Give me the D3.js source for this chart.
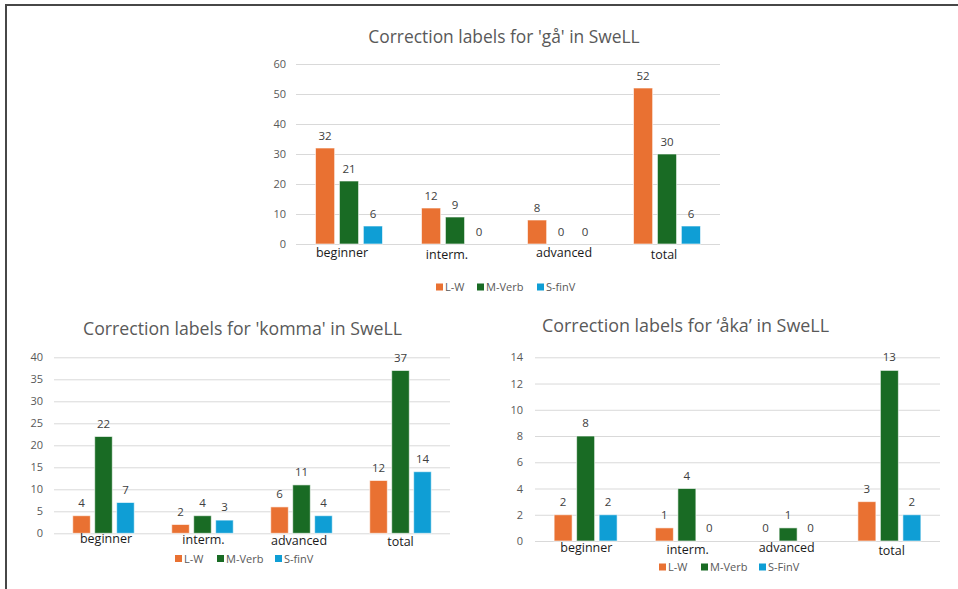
<!DOCTYPE html>
<html>
<head>
<meta charset="utf-8">
<script src="https://cdn.jsdelivr.net/npm/d3@7"></script>
<style>
  body { margin: 0; background: #fff; }
  svg { display: block; font-family: "Open Sans", "Noto Sans", sans-serif; }
</style>
</head>
<body>
<script>
// data
const categories = ["beginner", "interm.", "advanced", "total"];

const gaSeries = ["L-W", "M-Verb", "S-finV"];
const gaLW = [32, 12, 8, 52];
const gaMVerb = [21, 9, 0, 30];
const gaSfinV = [6, 0, 0, 6];
const gaTicks = [0, 10, 20, 30, 40, 50, 60];

const kommaSeries = ["L-W", "M-Verb", "S-finV"];
const kommaLW = [4, 2, 6, 12];
const kommaMVerb = [22, 4, 11, 37];
const kommaSfinV = [7, 3, 4, 14];
const kommaTicks = [0, 5, 10, 15, 20, 25, 30, 35, 40];

const akaSeries = ["L-W", "M-Verb", "S-FinV"];
const akaLW = [2, 1, 0, 3];
const akaMVerb = [8, 4, 1, 13];
const akaSfinV = [2, 0, 0, 2];
const akaTicks = [0, 2, 4, 6, 8, 10, 12, 14];

const colors = ["#E97132", "#196B24", "#0F9ED5"];

var w = 958;
var h = 589;

var svg = d3.select("body")
            .append("svg")
            .attr("width", w)
            .attr("height", h);

// frame lines on the left and top
svg.append("path")
   .attr("d", "M6,589 V5 H958")
   .attr("fill", "none")
   .attr("stroke", "#474747")
   .attr("stroke-width", 2);

function drawChart(cfg) {
    var g = svg.append("g");

    var x0 = d3.scaleBand()
               .domain(categories)
               .range([cfg.left, cfg.right]);
    var x1 = d3.scaleBand()
               .domain(cfg.series)
               .range([0, cfg.groupWidth])
               .paddingInner(cfg.barGap);
    var y = d3.scaleLinear()
              .domain([0, d3.max(cfg.ticks)])
              .range([cfg.bottom, cfg.top]);

    // title
    g.append("text")
     .attr("x", cfg.titleX)
     .attr("y", cfg.titleY)
     .attr("text-anchor", "middle")
     .attr("fill", "#595959")
     .style("font-size", cfg.titleSize + "px")
     .text(cfg.title);

    // gridlines + tick labels via axis
    var axis = g.append("g")
                .attr("transform", "translate(" + cfg.left + ",0)")
                .call(d3.axisLeft(y)
                        .tickValues(cfg.ticks)
                        .tickSize(-(cfg.right - cfg.left))
                        .tickPadding(cfg.tickPad));
    axis.select(".domain").remove();
    axis.selectAll(".tick line")
        .attr("stroke", "#d9d9d9")
        .attr("stroke-width", 1);
    axis.selectAll(".tick text")
        .attr("fill", "#595959")
        .style("font-size", "11px")
        .style("font-family", "\"Open Sans\", sans-serif");

    var rows = cfg.series.map(function(name, i) {
        return {name: name, values: cfg.values[i], color: colors[i]};
    });

    var groups = g.selectAll(".grp")
                  .data(categories)
                  .enter()
                  .append("g")
                  .attr("transform", function(d) {
                      return "translate(" + (x0(d) + (x0.bandwidth() - cfg.groupWidth) / 2) + ",0)";
                  });

    groups.each(function(cat, ci) {
        var grp = d3.select(this);
        rows.forEach(function(r) {
            var v = r.values[ci];
            if (v > 0) {
                grp.append("rect")
                   .attr("x", x1(r.name))
                   .attr("y", y(v))
                   .attr("width", x1.bandwidth())
                   .attr("height", y(0) - y(v))
                   .attr("fill", r.color)
                   .attr("stroke", "#ffffff")
                   .attr("stroke-opacity", 0.6)
                   .attr("stroke-width", 1);
            }
            grp.append("text")
               .attr("x", x1(r.name) + x1.bandwidth() / 2)
               .attr("y", y(v) - cfg.labelOff)
               .attr("text-anchor", "middle")
               .attr("fill", "#404040")
               .style("font-size", "11.5px")
               .text(v);
        });
    });

    // category labels
    g.selectAll(".cat")
     .data(categories)
     .enter()
     .append("text")
     .attr("x", function(d, i) { return x0(d) + x0.bandwidth() / 2 + cfg.catDx[i]; })
     .attr("y", function(d, i) { return cfg.bottom + cfg.catDy[i]; })
     .attr("text-anchor", "middle")
     .attr("fill", "#1a1a1a")
     .style("font-size", "12.5px")
     .text(function(d) { return d; });

    // legend
    var leg = g.selectAll(".leg")
               .data(rows)
               .enter()
               .append("g")
               .attr("transform", function(d, i) {
                   return "translate(" + cfg.legX[i] + "," + cfg.legY + ")";
               });
    leg.append("rect")
       .attr("x", 0)
       .attr("y", -3.5)
       .attr("width", 7)
       .attr("height", 7)
       .attr("fill", function(d) { return d.color; });
    leg.append("text")
       .attr("x", 9)
       .attr("y", 4)
       .attr("fill", "#595959")
       .style("font-size", "11px")
       .text(function(d) { return d.name; });
}

drawChart({
    title: "Correction labels for 'gå' in SweLL",
    titleX: 504, titleY: 43, titleSize: 17.4,
    series: gaSeries, values: [gaLW, gaMVerb, gaSfinV], ticks: gaTicks,
    left: 296, right: 720, top: 64, bottom: 244,
    groupWidth: 67, barGap: 0.2, tickPad: 10, labelOff: 8,
    catDx: [-7, -8, 3, -3], catDy: [13, 15, 12.5, 15],
    legX: [436, 477, 537], legY: 287
});

drawChart({
    title: "Correction labels for 'komma' in SweLL",
    titleX: 242.5, titleY: 335, titleSize: 17.7,
    series: kommaSeries, values: [kommaLW, kommaMVerb, kommaSfinV], ticks: kommaTicks,
    left: 54, right: 450, top: 357.3, bottom: 533.3,
    groupWidth: 61.5, barGap: 0.2, tickPad: 11, labelOff: 9,
    catDx: [2.5, 1, -2.5, 0], catDy: [10, 10.7, 11.4, 12.7],
    legX: [175, 217, 275], legY: 558.5
});

drawChart({
    title: "Correction labels for \u2018åka\u2019 in SweLL",
    titleX: 685.5, titleY: 332, titleSize: 17.9,
    series: akaSeries, values: [akaLW, akaMVerb, akaSfinV], ticks: akaTicks,
    left: 535, right: 940, top: 357.3, bottom: 541,
    groupWidth: 63, barGap: 0.2, tickPad: 12, labelOff: 9,
    catDx: [0.7, 0.8, -1.4, 2.3], catDy: [11.3, 13, 11.3, 13.7],
    legX: [659, 701, 759], legY: 567
});
</script>
</body>
</html>
